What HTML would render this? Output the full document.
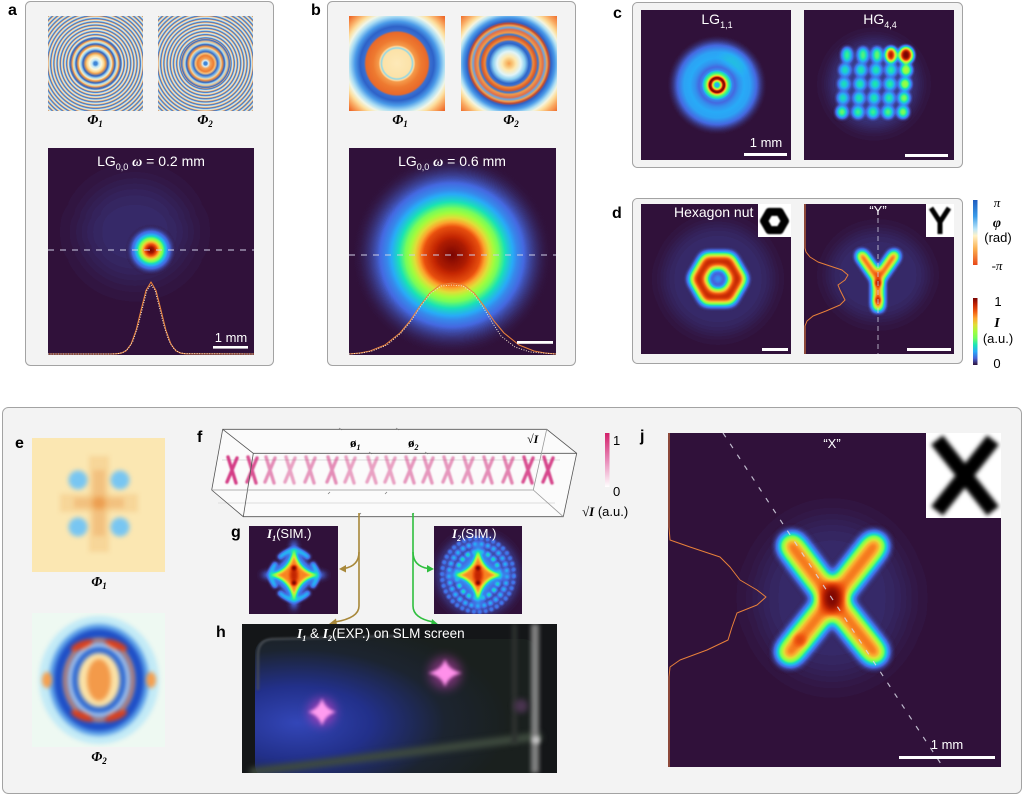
<!DOCTYPE html>
<html><head><meta charset="utf-8">
<style>
body{margin:0;background:#fff;}
#w{position:relative;width:1024px;height:795px;overflow:hidden;background:#fff;font-family:"Liberation Sans",sans-serif;}
svg{position:absolute;left:0;top:0;}
.ph{position:absolute;}
.lb{font-family:"Liberation Sans",sans-serif;font-weight:bold;font-size:16px;fill:#000;}
.wt{fill:#fff;font-family:"Liberation Sans",sans-serif;}
.sf{font-family:"Liberation Serif",serif;font-weight:bold;font-style:italic;}
</style></head><body><div id="w">
<svg width="1024" height="795" viewBox="0 0 1024 795" xmlns="http://www.w3.org/2000/svg">
<defs>
<filter id="turbo" color-interpolation-filters="sRGB" x="-20%" y="-20%" width="140%" height="140%">
<feComponentTransfer>
<feFuncR type="table" tableValues="0.19 0.27 0.16 0.10 0.45 0.64 0.88 0.99 0.94 0.77 0.48"/>
<feFuncG type="table" tableValues="0.07 0.41 0.67 0.89 0.99 0.99 0.87 0.64 0.35 0.15 0.02"/>
<feFuncB type="table" tableValues="0.23 0.88 0.97 0.71 0.37 0.24 0.22 0.18 0.07 0.01 0.01"/>
</feComponentTransfer>
</filter>
<filter id="b08" x="-100%" y="-100%" width="300%" height="300%" color-interpolation-filters="sRGB"><feGaussianBlur stdDeviation="0.8"/></filter>
<filter id="b1" x="-100%" y="-100%" width="300%" height="300%" color-interpolation-filters="sRGB"><feGaussianBlur stdDeviation="1"/></filter>
<filter id="b15" x="-100%" y="-100%" width="300%" height="300%" color-interpolation-filters="sRGB"><feGaussianBlur stdDeviation="1.5"/></filter>
<filter id="b2" x="-100%" y="-100%" width="300%" height="300%" color-interpolation-filters="sRGB"><feGaussianBlur stdDeviation="2"/></filter>
<filter id="b25" x="-100%" y="-100%" width="300%" height="300%" color-interpolation-filters="sRGB"><feGaussianBlur stdDeviation="2.5"/></filter>
<filter id="b3" x="-100%" y="-100%" width="300%" height="300%" color-interpolation-filters="sRGB"><feGaussianBlur stdDeviation="3"/></filter>
<filter id="b35" x="-100%" y="-100%" width="300%" height="300%" color-interpolation-filters="sRGB"><feGaussianBlur stdDeviation="3.5"/></filter>
<filter id="b5" x="-100%" y="-100%" width="300%" height="300%" color-interpolation-filters="sRGB"><feGaussianBlur stdDeviation="5"/></filter>
<filter id="b8" x="-100%" y="-100%" width="300%" height="300%" color-interpolation-filters="sRGB"><feGaussianBlur stdDeviation="8"/></filter>
<filter id="b15x" x="-100%" y="-100%" width="300%" height="300%" color-interpolation-filters="sRGB"><feGaussianBlur stdDeviation="15"/></filter>

<radialGradient id="gA"><stop offset="0" stop-color="#fff"/><stop offset=".115" stop-color="#f2f2f2"/><stop offset=".23" stop-color="#ccc"/><stop offset=".346" stop-color="#999"/><stop offset=".423" stop-color="#737373"/><stop offset=".538" stop-color="#454545"/><stop offset=".654" stop-color="#242424"/><stop offset=".769" stop-color="#121212"/><stop offset=".885" stop-color="#080808" stop-opacity=".6"/><stop offset="1" stop-color="#000" stop-opacity="0"/></radialGradient>
<radialGradient id="gB"><stop offset="0" stop-color="#fff"/><stop offset=".15" stop-color="#ededed"/><stop offset=".28" stop-color="#d1d1d1"/><stop offset=".35" stop-color="#a6a6a6"/><stop offset=".42" stop-color="#808080"/><stop offset=".48" stop-color="#616161"/><stop offset=".55" stop-color="#454545"/><stop offset=".65" stop-color="#262626"/><stop offset=".75" stop-color="#141414"/><stop offset=".88" stop-color="#080808" stop-opacity=".6"/><stop offset="1" stop-color="#000" stop-opacity="0"/></radialGradient>
<radialGradient id="gC"><stop offset="0" stop-color="#333"/><stop offset=".04" stop-color="#383838"/><stop offset=".08" stop-color="#8c8c8c"/><stop offset=".12" stop-color="#f2f2f2"/><stop offset=".15" stop-color="#fff"/><stop offset=".18" stop-color="#b3b3b3"/><stop offset=".22" stop-color="#616161"/><stop offset=".26" stop-color="#4d4d4d"/><stop offset=".30" stop-color="#262626"/><stop offset=".36" stop-color="#1a1a1a"/><stop offset=".44" stop-color="#292929"/><stop offset=".54" stop-color="#333"/><stop offset=".66" stop-color="#303030"/><stop offset=".76" stop-color="#1f1f1f"/><stop offset=".86" stop-color="#0d0d0d"/><stop offset=".96" stop-color="#030303" stop-opacity=".5"/><stop offset="1" stop-color="#000" stop-opacity="0"/></radialGradient>
<linearGradient id="cbPhase" x1="0" y1="0" x2="0" y2="1"><stop offset="0" stop-color="#1f5cbf"/><stop offset=".25" stop-color="#3a9be8"/><stop offset=".45" stop-color="#bde6f8"/><stop offset=".55" stop-color="#fff3c8"/><stop offset=".75" stop-color="#fbb050"/><stop offset="1" stop-color="#e84818"/></linearGradient>
<linearGradient id="cbTurbo" x1="0" y1="0" x2="0" y2="1"><stop offset="0" stop-color="#7a0403"/><stop offset=".1" stop-color="#c42503"/><stop offset=".2" stop-color="#ef5911"/><stop offset=".3" stop-color="#fea431"/><stop offset=".4" stop-color="#e1dd37"/><stop offset=".5" stop-color="#a4fc3c"/><stop offset=".6" stop-color="#72fe5e"/><stop offset=".7" stop-color="#1ae4b6"/><stop offset=".8" stop-color="#29abf8"/><stop offset=".9" stop-color="#4662d7"/><stop offset="1" stop-color="#30123b"/></linearGradient>
<linearGradient id="cbPink" x1="0" y1="0" x2="0" y2="1"><stop offset="0" stop-color="#d2206a"/><stop offset=".5" stop-color="#e889b8"/><stop offset="1" stop-color="#ffffff"/></linearGradient>
<radialGradient id="scr" cx="0.15" cy="0.6" r="0.75"><stop offset="0" stop-color="#3346b8"/><stop offset=".35" stop-color="#22308a"/><stop offset=".7" stop-color="#1c2430"/><stop offset="1" stop-color="#1a201e"/></radialGradient>

<clipPath id="cA"><rect x="48" y="148" width="206" height="207"/></clipPath>
<clipPath id="cB"><rect x="349" y="148" width="207" height="207"/></clipPath>
<clipPath id="cC1"><rect x="641" y="10" width="150" height="150"/></clipPath>
<clipPath id="cC2"><rect x="804" y="10" width="150" height="150"/></clipPath>
<clipPath id="cD1"><rect x="641" y="204" width="150" height="150"/></clipPath>
<clipPath id="cD2"><rect x="804" y="204" width="150" height="150"/></clipPath>
<clipPath id="cG1"><rect x="249" y="526" width="89" height="88"/></clipPath>
<clipPath id="cG2"><rect x="434" y="526" width="88" height="88"/></clipPath>
<clipPath id="cJ"><rect x="668" y="433" width="333" height="334"/></clipPath>
<clipPath id="cH"><rect x="242" y="624" width="315" height="149"/></clipPath>
<clipPath id="cE1"><rect x="32" y="438" width="133" height="134"/></clipPath>
<clipPath id="cE2"><rect x="32" y="613" width="133" height="134"/></clipPath>
<clipPath id="cIX"><rect x="926" y="433" width="75" height="85"/></clipPath>
<clipPath id="cIH"><rect x="758" y="204" width="33" height="33"/></clipPath>
<clipPath id="cIY"><rect x="926" y="204" width="28" height="33"/></clipPath>
<g id="xm"><path d="M-4,-13 L4,13 M5,-12 L-5,12" stroke="#d2337f" stroke-width="3.4" stroke-linecap="round" fill="none"/></g>
</defs>

<!-- panel boxes -->
<rect x="25.5" y="1.5" width="248" height="364" rx="5" fill="#f3f3f3" stroke="#a3a3a3"/>
<rect x="327.5" y="1.5" width="248" height="364" rx="5" fill="#f3f3f3" stroke="#a3a3a3"/>
<rect x="632.5" y="2.5" width="330" height="165" rx="5" fill="#f3f3f3" stroke="#a3a3a3"/>
<rect x="632.5" y="198.5" width="330" height="165" rx="5" fill="#f3f3f3" stroke="#a3a3a3"/>
<rect x="2.5" y="407.5" width="1019" height="386" rx="6" fill="#f3f3f3" stroke="#a3a3a3"/>

<!-- labels -->
<text class="lb" x="8" y="15">a</text>
<text class="lb" x="311" y="15">b</text>
<text class="lb" x="613" y="18">c</text>
<text class="lb" x="612" y="218">d</text>
<text class="lb" x="15" y="448">e</text>
<text class="lb" x="197" y="442">f</text>
<text class="lb" x="231" y="537">g</text>
<text class="lb" x="216" y="637">h</text>
<text class="lb" x="640" y="441">j</text>

<!-- Phi labels -->
<text class="sf" x="95" y="124" font-size="14" text-anchor="middle">Φ<tspan font-size="9" dy="3">1</tspan></text>
<text class="sf" x="205" y="124" font-size="14" text-anchor="middle">Φ<tspan font-size="9" dy="3">2</tspan></text>
<text class="sf" x="400" y="124" font-size="14" text-anchor="middle">Φ<tspan font-size="9" dy="3">1</tspan></text>
<text class="sf" x="511" y="124" font-size="14" text-anchor="middle">Φ<tspan font-size="9" dy="3">2</tspan></text>
<text class="sf" x="99" y="586" font-size="14" text-anchor="middle">Φ<tspan font-size="9" dy="3">1</tspan></text>
<text class="sf" x="99" y="761" font-size="14" text-anchor="middle">Φ<tspan font-size="9" dy="3">2</tspan></text>

<!-- a big image -->
<g clip-path="url(#cA)"><g filter="url(#turbo)">
<rect x="48" y="148" width="206" height="207" fill="#000"/>
<ellipse cx="135" cy="232" rx="55" ry="50" fill="#070707" filter="url(#b15x)"/>
<circle cx="151" cy="250" r="26" fill="url(#gA)"/>
</g></g>
<line x1="48" y1="250" x2="254" y2="250" stroke="#cfcfe6" stroke-width="1.2" stroke-dasharray="6 6" opacity="0.8"/>
<path d="M48,354 L110,354 L116,353.8 L121,353.2 L126,350.9 L131,344.3 L136,330.6 L141,310.3 L146,290.5 L151,282 L156,290.5 L161,310.3 L166,330.6 L171,344.3 L176,350.9 L181,353.2 L186,353.8 L254,354" fill="none" stroke="#e8803a" stroke-width="1.1" stroke-linejoin="round"/>
<path d="M48,354 L112,354 L118,353.6 L123,352.4 L128,348.9 L133,341 L138,326 L143,306 L147,290 L151,285 L155,290 L159,306 L164,326 L169,341 L174,348.9 L179,352.4 L184,353.6 L254,354" fill="none" stroke="#f6e6d0" stroke-width="1" stroke-dasharray="1 1.5"/>
<text class="wt" x="151" y="166" font-size="14" text-anchor="middle">LG<tspan font-size="9" dy="4">0,0</tspan><tspan dy="-4"> </tspan><tspan class="sf" font-family="Liberation Serif">ω</tspan> = 0.2 mm</text>
<text class="wt" x="231" y="342" font-size="13" text-anchor="middle">1 mm</text>
<rect x="213" y="346" width="35" height="2.6" fill="#fff"/>

<!-- b big image -->
<g clip-path="url(#cB)"><g filter="url(#turbo)">
<rect x="349" y="148" width="207" height="207" fill="#000"/>
<circle cx="452" cy="255" r="100" fill="url(#gB)"/>
</g></g>
<line x1="349" y1="255" x2="556" y2="255" stroke="#cfcfe6" stroke-width="1.2" stroke-dasharray="6 6" opacity="0.8"/>
<path d="M349,354 L360,353 L370,351 L385,345 L400,333 L410,321 L420,306 L430,293 L440,285 L452,283 L464,285 L474,293 L484,306 L494,321 L504,333 L519,345 L534,351 L545,353 L556,354" fill="none" stroke="#e8803a" stroke-width="1.1" stroke-linejoin="round"/>
<path d="M349,354 L362,353 L372,351 L387,345 L401,333 L411,321 L421,306 L431,293 L441,286 L452,285 L463,286 L473,293 L483,307 L492,322 L501,336 L515,347 L530,352 L556,354" fill="none" stroke="#f6e6d0" stroke-width="1" stroke-dasharray="1 1.5"/>
<text class="wt" x="452" y="166" font-size="14" text-anchor="middle">LG<tspan font-size="9" dy="4">0,0</tspan><tspan dy="-4"> </tspan><tspan class="sf" font-family="Liberation Serif">ω</tspan> = 0.6 mm</text>
<rect x="517" y="341" width="36" height="2.8" fill="#fff"/>

<!-- c1 LG11 -->
<g clip-path="url(#cC1)"><g filter="url(#turbo)">
<rect x="641" y="10" width="150" height="150" fill="#000"/>
<circle cx="717" cy="85" r="50" fill="url(#gC)"/>
<ellipse cx="734" cy="62" rx="14" ry="6" fill="#555" opacity="0.35" filter="url(#b5)" transform="rotate(35 734 62)"/>
</g></g>
<text class="wt" x="717" y="24" font-size="14" text-anchor="middle">LG<tspan font-size="9" dy="4">1,1</tspan></text>
<text class="wt" x="766" y="147" font-size="13" text-anchor="middle">1 mm</text>
<rect x="744" y="153" width="43" height="3" fill="#fff"/>

<!-- c2 HG44 -->
<g clip-path="url(#cC2)"><g filter="url(#turbo)">
<rect x="804" y="10" width="150" height="150" fill="#000"/>
<ellipse cx="874" cy="84" rx="44" ry="44" fill="#0c0c0c" filter="url(#b8)"/>
<g filter="url(#b2)">
<ellipse cx="847" cy="55" rx="4.5" ry="7" fill="#5a5a5a"/>
<ellipse cx="863" cy="55" rx="4.5" ry="7" fill="#606060"/>
<ellipse cx="877" cy="55" rx="4.5" ry="7" fill="#666"/>
<ellipse cx="891" cy="55" rx="5" ry="7" fill="#f0f0f0"/>
<ellipse cx="906" cy="55" rx="6.5" ry="7.5" fill="#fff"/>
<ellipse cx="845" cy="70" rx="5" ry="5.5" fill="#4d4d4d"/>
<ellipse cx="861" cy="70" rx="5" ry="5.5" fill="#525252"/>
<ellipse cx="876" cy="70" rx="5" ry="5.5" fill="#525252"/>
<ellipse cx="891" cy="70" rx="5" ry="5.5" fill="#555"/>
<ellipse cx="906" cy="70" rx="5" ry="5.5" fill="#8a8a8a"/>
<ellipse cx="844" cy="84" rx="5" ry="5.5" fill="#4d4d4d"/>
<ellipse cx="860" cy="84" rx="5" ry="5.5" fill="#525252"/>
<ellipse cx="875" cy="84" rx="5" ry="5.5" fill="#525252"/>
<ellipse cx="890" cy="84" rx="5" ry="5.5" fill="#555"/>
<ellipse cx="905" cy="84" rx="5" ry="5.5" fill="#808080"/>
<ellipse cx="843" cy="98" rx="5" ry="5.5" fill="#4d4d4d"/>
<ellipse cx="859" cy="98" rx="5" ry="5.5" fill="#525252"/>
<ellipse cx="874" cy="98" rx="5" ry="5.5" fill="#525252"/>
<ellipse cx="889" cy="98" rx="5" ry="5.5" fill="#555"/>
<ellipse cx="904" cy="98" rx="5" ry="5.5" fill="#6e6e6e"/>
<ellipse cx="842" cy="112" rx="5" ry="5.5" fill="#666"/>
<ellipse cx="858" cy="112" rx="5" ry="5.5" fill="#5a5a5a"/>
<ellipse cx="873" cy="112" rx="5" ry="5.5" fill="#5a5a5a"/>
<ellipse cx="888" cy="112" rx="5" ry="5.5" fill="#606060"/>
<ellipse cx="903" cy="112" rx="5" ry="5.5" fill="#6e6e6e"/>
</g>
</g></g>
<text class="wt" x="880" y="24" font-size="14" text-anchor="middle">HG<tspan font-size="9" dy="4">4,4</tspan></text>
<rect x="905" y="154" width="43" height="3" fill="#fff"/>

<!-- d1 hexagon -->
<g clip-path="url(#cD1)"><g filter="url(#turbo)">
<rect x="641" y="204" width="150" height="150" fill="#000"/>
<circle cx="718" cy="279" r="55" fill="#070707" filter="url(#b8)"/>
<polygon points="738.5,279 728.2,261.3 707.8,261.3 697.5,279 707.8,296.7 728.2,296.7" fill="none" stroke="#e8e8e8" stroke-width="13.5" stroke-linejoin="round" filter="url(#b35)"/>
<circle cx="718" cy="279" r="5" fill="#2a2a2a" filter="url(#b2)"/>
</g></g>
<g clip-path="url(#cIH)">
<rect x="758" y="204" width="33" height="33" fill="#fff"/>
<polygon points="785,221 779.75,211.9 769.25,211.9 764,221 769.25,230.1 779.75,230.1" fill="none" stroke="#000" stroke-width="8" stroke-linejoin="round" filter="url(#b08)"/>
</g>
<text class="wt" x="674" y="217" font-size="14">Hexagon nut</text>
<rect x="762" y="348" width="26" height="3" fill="#fff"/>

<!-- d2 Y -->
<g clip-path="url(#cD2)"><g filter="url(#turbo)">
<rect x="804" y="204" width="150" height="150" fill="#000"/>
<ellipse cx="878" cy="275" rx="50" ry="45" fill="#070707" filter="url(#b8)"/>
<path d="M862,256 L878,279 L894,256 M878,279 L878,306" fill="none" stroke="#d6d6d6" stroke-width="9" stroke-linecap="round" stroke-linejoin="round" filter="url(#b3)"/>
<circle cx="878" cy="283" r="3.5" fill="#fff" filter="url(#b2)"/>
<circle cx="878" cy="300" r="3" fill="#fff" filter="url(#b2)"/>
</g></g>
<line x1="878" y1="218" x2="878" y2="354" stroke="#d0d0e0" stroke-width="1" stroke-dasharray="5 4" opacity="0.8"/>
<path d="M805,204 L805,248 L806,252 L810,257 L818,262 L830,266 L842,270 L848,275 L845,280 L838,285 L840,290 L843,296 L845,300 L840,305 L826,311 L813,316 L807,321 L805,326 L805,354" fill="none" stroke="#e8803a" stroke-width="1" stroke-linejoin="round"/>
<g clip-path="url(#cIY)">
<rect x="926" y="204" width="28" height="33" fill="#fff"/>
<path d="M931,208 L940,222 L949,208 M940,222 L940,234" fill="none" stroke="#000" stroke-width="5" filter="url(#b08)"/>
</g>
<text class="wt" x="878" y="215" font-size="13" text-anchor="middle">“Y”</text>
<rect x="907" y="348" width="44" height="3" fill="#fff"/>

<!-- colorbars d -->
<rect x="973" y="200" width="4.5" height="65" fill="url(#cbPhase)"/>
<rect x="973" y="298" width="4.5" height="67" fill="url(#cbTurbo)"/>
<text x="997" y="207" font-size="13" text-anchor="middle" font-family="Liberation Serif" font-style="italic">π</text>
<text class="sf" x="997" y="227" font-size="14" text-anchor="middle">φ</text>
<text x="998" y="242" font-size="13" text-anchor="middle">(rad)</text>
<text x="997" y="270" font-size="13" text-anchor="middle" font-family="Liberation Serif" font-style="italic">-π</text>
<text x="998" y="306" font-size="13" text-anchor="middle">1</text>
<text class="sf" x="997" y="327" font-size="14" text-anchor="middle">I</text>
<text x="998" y="343" font-size="13" text-anchor="middle">(a.u.)</text>
<text x="997" y="368" font-size="13" text-anchor="middle">0</text>

<!-- e phi1 -->
<g clip-path="url(#cE1)">
<rect x="32" y="438" width="133" height="134" fill="#fbe7b2"/>
<g filter="url(#b25)">
<rect x="89" y="456" width="20" height="96" fill="#f2b86a" opacity="0.35"/>
<rect x="60" y="494" width="78" height="18" fill="#f2b86a" opacity="0.35"/>
<rect x="93" y="470" width="12" height="66" fill="#ec9a50" opacity="0.35"/>
<rect x="74" y="498" width="50" height="10" fill="#ec9a50" opacity="0.35"/>
<circle cx="99" cy="503" r="6" fill="#e8903e" opacity="0.5"/>
<circle cx="78" cy="480" r="9.5" fill="#78c6f2"/>
<circle cx="120" cy="480" r="9.5" fill="#78c6f2"/>
<circle cx="78" cy="527" r="9.5" fill="#78c6f2"/>
<circle cx="120" cy="527" r="9.5" fill="#78c6f2"/>
</g>
</g>

<!-- e phi2 -->
<g clip-path="url(#cE2)">
<rect x="32" y="613" width="133" height="134" fill="#eef9f2"/>
<g filter="url(#b2)">
<ellipse cx="99" cy="680" rx="60" ry="64" fill="#c2eaf6"/>
<ellipse cx="99" cy="680" rx="50" ry="56" fill="#5a9ee8"/>
<ellipse cx="99" cy="680" rx="45" ry="51" fill="#1e4ec6"/>
<ellipse cx="99" cy="680" rx="37" ry="43" fill="#3070d8"/>
<ellipse cx="99" cy="680" rx="34" ry="40" fill="none" stroke="#f0864a" stroke-width="3"/>
<ellipse cx="99" cy="680" rx="29" ry="35" fill="none" stroke="#f0f4f0" stroke-width="2.5"/>
<ellipse cx="99" cy="680" rx="25" ry="31" fill="#2e66d0"/>
<ellipse cx="99" cy="680" rx="21" ry="27" fill="#fbe2a6"/>
<ellipse cx="99" cy="680" rx="12" ry="21" fill="#f39a4a"/>
<ellipse cx="82" cy="645" rx="12" ry="4" fill="#d8401e" transform="rotate(-22 82 645)"/>
<ellipse cx="116" cy="645" rx="12" ry="4" fill="#d8401e" transform="rotate(22 116 645)"/>
<ellipse cx="82" cy="716" rx="12" ry="4" fill="#d8401e" transform="rotate(22 82 716)"/>
<ellipse cx="116" cy="716" rx="12" ry="4" fill="#d8401e" transform="rotate(-22 116 716)"/>
<ellipse cx="47" cy="680" rx="5" ry="8" fill="#f5a050"/>
<ellipse cx="151" cy="680" rx="5" ry="8" fill="#f5a050"/>
</g>
</g>

<!-- f prism -->
<polygon points="222.7,429.3 546.7,429.3 576.7,453.3 563.3,516.7 243.3,516.7 211.7,490" fill="#fbfbfb" stroke="none"/>
<line x1="222" y1="460" x2="560" y2="460" stroke="#d4d4d4" stroke-width="0.8"/>
<line x1="218" y1="503" x2="555" y2="503" stroke="#d4d4d4" stroke-width="0.8"/>
<g filter="url(#b08)">
<use href="#xm" transform="translate(232,470)" opacity="0.95"/>
<use href="#xm" transform="translate(252,470)" opacity="0.85"/>
<use href="#xm" transform="translate(270,470)" opacity="0.55"/>
<use href="#xm" transform="translate(290,470)" opacity="0.45"/>
<use href="#xm" transform="translate(310,470)" opacity="0.5"/>
<use href="#xm" transform="translate(332,470)" opacity="0.55"/>
<use href="#xm" transform="translate(350,470)" opacity="0.45"/>
<use href="#xm" transform="translate(372,470)" opacity="0.45"/>
<use href="#xm" transform="translate(390,470)" opacity="0.45"/>
<use href="#xm" transform="translate(410,470)" opacity="0.5"/>
<use href="#xm" transform="translate(428,470)" opacity="0.5"/>
<use href="#xm" transform="translate(448,470)" opacity="0.5"/>
<use href="#xm" transform="translate(468,470)" opacity="0.5"/>
<use href="#xm" transform="translate(488,470)" opacity="0.55"/>
<use href="#xm" transform="translate(508,470)" opacity="0.6"/>
<use href="#xm" transform="translate(528,470)" opacity="0.85"/>
<use href="#xm" transform="translate(548,470)" opacity="0.9"/>
</g>
<g fill="none" stroke="#555" stroke-width="0.8">
<polygon points="222.7,429.3 546.7,429.3 576.7,453.3 563.3,516.7 243.3,516.7 211.7,490"/>
<polyline points="222.7,429.3 253.3,453.3 576.7,453.3"/>
<line x1="253.3" y1="453.3" x2="243.3" y2="516.7"/>
<line x1="211.7" y1="490" x2="533.3" y2="490" stroke="#999"/>
<line x1="533.3" y1="490" x2="546.7" y2="429.3" stroke="#999"/>
<line x1="533.3" y1="490" x2="563.3" y2="516.7" stroke="#999"/>
</g>
<g stroke="#777" stroke-width="0.7" fill="none">
<path d="M339,428 l3,2"/><path d="M396,428 l3,2"/><path d="M369,452 l3,2"/><path d="M425,452 l3,2"/><path d="M330,492 l-2,2"/><path d="M387,492 l-2,2"/><path d="M361,513 l-2,2"/><path d="M414,513 l-2,2"/>
</g>
<text x="350" y="447" font-size="13" font-family="Liberation Serif" font-weight="bold">ø<tspan font-size="8" dy="3" font-style="italic">1</tspan></text>
<text x="408" y="447" font-size="13" font-family="Liberation Serif" font-weight="bold">ø<tspan font-size="8" dy="3" font-style="italic">2</tspan></text>
<text class="sf" x="527" y="443" font-size="12">√I</text>
<rect x="605" y="433" width="4.5" height="54" fill="url(#cbPink)"/>
<text x="613" y="445" font-size="13">1</text>
<text x="613" y="496" font-size="13">0</text>
<text x="582" y="516" font-size="13"><tspan class="sf" font-size="13">√I</tspan> (a.u.)</text>

<!-- arrows -->
<path d="M359,513 L359,552 Q359,566 344,568.5" fill="none" stroke="#a8883a" stroke-width="1.6"/>
<polygon points="339,569 346,565 346,572.5" fill="#a8883a"/>
<path d="M359,552 L359,606 Q359,618 335,622" fill="none" stroke="#a8883a" stroke-width="1.6"/>
<polygon points="329,624 336,618.5 337,625" fill="#a8883a"/>
<path d="M413,513 L413,552 Q413,566 428,568.5" fill="none" stroke="#2fbf3f" stroke-width="1.6"/>
<polygon points="434,569 427,565 427,572.5" fill="#2fbf3f"/>
<path d="M413,552 L413,606 Q413,618 433,622" fill="none" stroke="#2fbf3f" stroke-width="1.6"/>
<polygon points="439,625 432,619 431,626" fill="#2fbf3f"/>

<!-- g I1 -->
<g clip-path="url(#cG1)"><g filter="url(#turbo)">
<rect x="249" y="526" width="89" height="88" fill="#000"/>
<path d="M294,538 Q300,569 328,575 Q300,581 294,612 Q288,581 260,575 Q288,569 294,538 Z" fill="#2e2e2e" filter="url(#b3)"/>
<g fill="none" stroke="#474747" stroke-width="3.5" filter="url(#b15)">
<path d="M279,558 Q294,543 309,558"/><path d="M279,592 Q294,607 309,592"/>
<path d="M276,563 Q266,575 276,587"/><path d="M312,563 Q322,575 312,587"/>
</g>
<path d="M294,549 Q297,572 318,575 Q297,578 294,601 Q291,578 270,575 Q291,572 294,549 Z" fill="#bdbdbd" filter="url(#b15)"/>
<ellipse cx="294" cy="575" rx="4" ry="8" fill="#e6e6e6" filter="url(#b15)"/>
<circle cx="294" cy="568" r="2.5" fill="#fff" filter="url(#b1)"/>
<circle cx="294" cy="583" r="2.5" fill="#fff" filter="url(#b1)"/>
</g></g>
<text class="wt" x="267" y="538" font-size="13"><tspan class="sf" font-family="Liberation Serif">I</tspan><tspan class="sf" font-family="Liberation Serif" font-size="8" dy="3">1</tspan><tspan dy="-3">(SIM.)</tspan></text>

<!-- g I2 -->
<g clip-path="url(#cG2)"><g filter="url(#turbo)">
<rect x="434" y="526" width="88" height="88" fill="#000"/>
<ellipse cx="478" cy="575" rx="40" ry="40" fill="#121212" filter="url(#b5)"/>
<g fill="none" filter="url(#b1)">
<ellipse cx="478" cy="575" rx="21" ry="23" stroke="#555" stroke-width="4" stroke-dasharray="4 3"/>
<ellipse cx="478" cy="575" rx="29" ry="31" stroke="#404040" stroke-width="3.5" stroke-dasharray="3.5 3"/>
<ellipse cx="478" cy="575" rx="36" ry="37" stroke="#2e2e2e" stroke-width="3" stroke-dasharray="3 3"/>
</g>
<path d="M478,538 Q484,569 512,575 Q484,581 478,612 Q472,581 444,575 Q472,569 478,538 Z" fill="#2e2e2e" filter="url(#b3)"/>
<path d="M478,549 Q481,572 502,575 Q481,578 478,601 Q475,578 454,575 Q475,572 478,549 Z" fill="#bdbdbd" filter="url(#b15)"/>
<ellipse cx="478" cy="575" rx="4.5" ry="8" fill="#e6e6e6" filter="url(#b15)"/>
<circle cx="478" cy="568" r="2.5" fill="#fff" filter="url(#b1)"/>
<circle cx="478" cy="583" r="2.5" fill="#fff" filter="url(#b1)"/>
</g></g>
<text class="wt" x="452" y="538" font-size="13"><tspan class="sf" font-family="Liberation Serif">I</tspan><tspan class="sf" font-family="Liberation Serif" font-size="8" dy="3">2</tspan><tspan dy="-3">(SIM.)</tspan></text>

<!-- h photo -->
<g clip-path="url(#cH)">
<rect x="242" y="624" width="315" height="149" fill="#141618"/>
<rect x="255" y="639" width="282" height="140" rx="14" fill="url(#scr)"/>
<path d="M258,690 L258,655 Q258,640 272,639 L400,636" fill="none" stroke="#4a4f55" stroke-width="2" filter="url(#b1)"/>
<polygon points="250,768 540,732 543,740 250,776" fill="#3e4a3e" filter="url(#b3)"/>
<rect x="531" y="624" width="8" height="149" fill="#808080" filter="url(#b2)"/>
<rect x="512" y="624" width="5" height="120" fill="#2e3230" filter="url(#b2)"/>
<circle cx="536" cy="740" r="4" fill="#c8c8c8" filter="url(#b2)"/>
<circle cx="521" cy="706" r="7" fill="#4a3450" filter="url(#b3)"/>
<circle cx="322" cy="712" r="14" fill="#d040c0" opacity="0.6" filter="url(#b5)"/>
<path d="M322,698 Q325,709 336,712 Q325,715 322,726 Q319,715 308,712 Q319,709 322,698 Z" fill="#ff9cf0" filter="url(#b15)"/>
<circle cx="445" cy="673" r="16" fill="#c040b0" opacity="0.55" filter="url(#b5)"/>
<path d="M445,659 Q448,670 462,673 Q448,676 445,687 Q442,676 428,673 Q442,670 445,659 Z" fill="#ff90ea" filter="url(#b15)"/>
</g>
<text class="wt" x="297" y="638" font-size="13.5"><tspan class="sf" font-family="Liberation Serif">I</tspan><tspan class="sf" font-family="Liberation Serif" font-size="8" dy="3">1</tspan><tspan dy="-3"> &amp; </tspan><tspan class="sf" font-family="Liberation Serif">I</tspan><tspan class="sf" font-family="Liberation Serif" font-size="8" dy="3">2</tspan><tspan dy="-3">(EXP.) on SLM screen</tspan></text>

<!-- j X -->
<g clip-path="url(#cJ)"><g filter="url(#turbo)">
<rect x="668" y="433" width="333" height="334" fill="#000"/>
<ellipse cx="832" cy="598" rx="75" ry="80" fill="#070707" filter="url(#b15x)"/>
<path d="M792,546 Q832,600 874,652 M874,546 Q832,600 790,652" fill="none" stroke="#c4c4c4" stroke-width="22" stroke-linecap="round" filter="url(#b5)"/>
<ellipse cx="832" cy="598" rx="11" ry="15" fill="#fff" filter="url(#b5)"/>
<ellipse cx="800" cy="640" rx="6" ry="6" fill="#d6d6d6" filter="url(#b3)"/>
</g></g>
<line x1="723" y1="433" x2="943" y2="767" stroke="#d8d8e6" stroke-width="1.2" stroke-dasharray="5 8" opacity="0.85"/>
<path d="M669,433 L669,527 L670,540 L690,547 L720,557 L730,567 L740,580 L757,590 L766,597 L757,605 L737,613 L732,627 L728,640 L707,650 L680,660 L670,667 L669,677 L669,767" fill="none" stroke="#e8803a" stroke-width="1" stroke-linejoin="round"/>
<g clip-path="url(#cIX)">
<rect x="926" y="433" width="75" height="85" fill="#fff"/>
<path d="M937,440 L993,511 M993,440 L937,511" fill="none" stroke="#000" stroke-width="15" filter="url(#b2)"/>
</g>
<text class="wt" x="832" y="448" font-size="13" text-anchor="middle">“X”</text>
<text class="wt" x="947" y="749" font-size="13" text-anchor="middle">1 mm</text>
<rect x="899" y="756" width="96" height="3" fill="#fff"/>
</svg>

<div class="ph" style="left:48px;top:16px;width:95px;height:95px;background:radial-gradient(circle at 50% 50%, #3f86d6 0px, #3f86d6 1.5px, #bfe6f7 3.5px, #fdf7dc 6px, #fad68c 8.5px, #f3a24e 10px, #2f62bf 12.5px, #9fd6f0 14.5px, #f6ecc8 16px, #f0963e 17.5px, #2f62bf 19.5px, #a8dbf1 21px, #f3d9a0 22.5px, #e99048 23.5px, #2f62bf 25px, rgba(0,0,0,0) 25.5px), repeating-radial-gradient(circle at 50% 50%, #3565bb 0px, #9ccfee 0.9px, #f2eedc 1.7px, #e7a466 2.5px, #3565bb 3.2px);"></div>
<div class="ph" style="left:158px;top:16px;width:95px;height:95px;background:radial-gradient(circle at 50% 50%, #3f86d6 0px, #3f86d6 1.5px, #d8eef6 3px, #f4a258 5px, #ec7e34 8px, #f7c27c 10px, #3a6cc4 12px, #7fb8e6 14px, #f0d8a8 15.5px, #ee8e40 17px, #2f62bf 19px, #a8dbf1 20.5px, #f2c890 22px, #2f62bf 24px, rgba(0,0,0,0) 25px), repeating-radial-gradient(circle at 50% 50%, #3565bb 0px, #9ccfee 0.9px, #f2eedc 1.7px, #e7a466 2.5px, #3565bb 3.2px);"></div>
<div class="ph" style="left:349px;top:16px;width:96px;height:95px;background:radial-gradient(circle at 50% 50%, #fde9b8 0px, #fce2a8 14px, #8fd8e8 15.5px, #fcd9a0 17px, #f59a4a 18.5px, #ee7a30 24px, #e8692a 31px, #3a6fd0 33px, #2e62c8 37px, #4a9ae8 42px, #a8dcf4 47px, #f0f6e8 51px, #fde0a0 55px, #f9a860 60px, #ee6a2a 66px, #e8602a 70px);"></div>
<div class="ph" style="left:461px;top:16px;width:96px;height:95px;background:radial-gradient(circle at 50% 50%, #f6a050 0px, #f8c070 3px, #fde8b0 7px, #e0f4f8 12px, #8ccff0 16px, #2e66c8 20px, #3a70d0 22px, #f08a3a 24px, #d85a2a 27px, #3a78d0 29px, #f09a4a 31px, #e0704a 34px, #6aa6e0 36px, #f0a050 38px, #c04a30 40px, #2e62c8 42px, #4a9ae8 46px, #b0e0f4 50px, #f4f4e0 53px, #fde0a0 56px, #f9a860 61px, #ee6a2a 68px);"></div>
</div></body></html>
